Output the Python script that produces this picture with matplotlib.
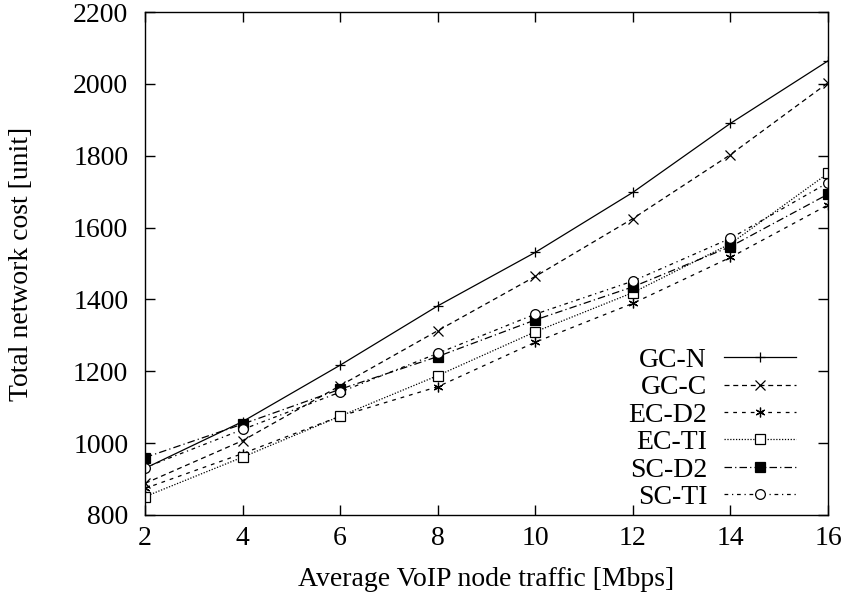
import matplotlib
matplotlib.use("Agg")
import matplotlib.pyplot as plt

traffic = [2, 4, 6, 8, 10, 12, 14, 16]
gc_n = [930, 1060, 1217, 1382, 1531, 1698, 1890, 2064]
gc_c = [888, 1007, 1160, 1313, 1464, 1625, 1803, 2003]
ec_d2 = [874, 971, 1075, 1157, 1281, 1389, 1517, 1663]
ec_ti = [851, 961, 1075, 1188, 1310, 1419, 1555, 1751]
sc_d2 = [960, 1053, 1150, 1241, 1343, 1435, 1547, 1693]
sc_ti = [932, 1038, 1142, 1250, 1359, 1451, 1570, 1725]

series = [
    ("GC-N", gc_n, "-", "+", "none"),
    ("GC-C", gc_c, (0, (4, 3)), "x", "none"),
    ("EC-D2", ec_d2, (0, (3, 4)), (6, 2, 0), "none"),
    ("EC-TI", ec_ti, (0, (1, 1.3)), "s", "white"),
    ("SC-D2", sc_d2, (0, (6, 2.5, 1, 2.5)), "s", "black"),
    ("SC-TI", sc_ti, (0, (3, 3, 1, 3)), "o", "white"),
]

plt.rcParams["font.family"] = ["Liberation Serif", "DejaVu Serif"]

fig = plt.figure(figsize=(8.46, 6.0), dpi=100)
ax = fig.add_axes([145 / 846, 85 / 600, (828 - 145) / 846, (515 - 12) / 600])

for label, values, ls, marker, face in series:
    ax.plot(traffic, values, color="black", linestyle=ls, linewidth=0.9,
            marker=marker, markersize=7, markerfacecolor=face,
            markeredgecolor="black", markeredgewidth=0.9, label=label)

ax.set_xlim(2, 16)
ax.set_ylim(800, 2200)
ax.set_xticks(range(2, 17, 2))
ax.set_yticks(range(800, 2201, 200))
ax.tick_params(direction="in", length=7, width=1, top=True, right=True,
               labelsize=20)
ax.tick_params(axis="x", pad=8)
ax.tick_params(axis="y", pad=12)
for spine in ax.spines.values():
    spine.set_linewidth(1)

ax.set_xlabel("Average VoIP node traffic [Mbps]", fontsize=20, va="center")
ax.set_ylabel("Total network cost [unit]", fontsize=20, va="center")
ax.xaxis.set_label_coords(0.5, (515 - 580) / 503)
ax.yaxis.set_label_coords((22 - 145) / 683, 0.5)

ax.legend(loc="lower right", frameon=False, markerfirst=False,
          fontsize=20, handlelength=2.6, handletextpad=0.6,
          labelspacing=0.07, borderaxespad=0, borderpad=0,
          bbox_to_anchor=(0.953, 0.01))

fig.savefig("out.png", dpi=100)
